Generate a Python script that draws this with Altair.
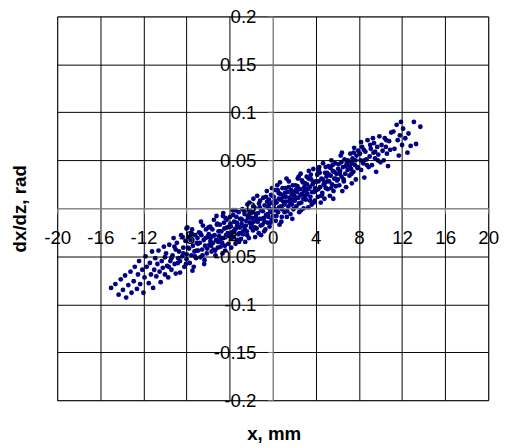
import altair as alt
import pandas as pd

# ---- data ----
x_mm = [
    # -15..-12
    -15.0, -14.6, -14.3, -14.1,
    -13.9, -13.7, -13.6, -13.4, -13.2, -13.1,
    -12.9, -12.8, -12.6, -12.5, -12.4, -12.3, -12.1, -12.0,
    # -12..-8
    -11.9, -11.8, -11.7, -11.5, -11.4, -11.3, -11.2, -11.1, -11.0,
    -10.9, -10.8, -10.7, -10.6, -10.5, -10.4, -10.3, -10.2, -10.1, -10.0, -10.0,
    -9.9, -9.8, -9.7, -9.6, -9.5, -9.4, -9.3, -9.2, -9.1, -9.0, -9.0, -9.4,
    -8.9, -8.8, -8.7, -8.6, -8.5, -8.4, -8.3, -8.2, -8.1, -8.0, -8.0, -8.6, -8.3,
    # -8..-5
    -7.04, -7.11, -7.19, -7.26, -7.33, -7.41, -7.48, -7.55, -7.63, -7.70, -7.77, -7.85, -7.92, -7.99, -7.45,
    -6.05, -6.12, -6.19, -6.27, -6.33, -6.40, -6.48, -6.55, -6.62, -6.70, -6.77, -6.84, -6.91, -6.98, -6.36, -6.66,
    -5.03, -5.10, -5.18, -5.25, -5.31, -5.39, -5.46, -5.53, -5.60, -5.67, -5.74, -5.80, -5.87, -5.94, -5.22, -5.49, -5.78,
    # -5..0
    -4.05, -4.12, -4.27, -4.33, -4.41, -4.48, -4.56, -4.62, -4.70, -4.77, -4.84, -4.91, -4.97, -4.18, -4.52, -4.88, -4.66, -4.38,
    -3.03, -3.09, -3.16, -3.24, -3.29, -3.37, -3.45, -3.51, -3.58, -3.64, -3.72, -3.79, -3.85, -3.93, -3.98, -3.41, -3.67, -3.12, -3.88,
    -2.02, -2.08, -2.14, -2.21, -2.27, -2.35, -2.40, -2.47, -2.55, -2.61, -2.68, -2.74, -2.81, -2.89, -2.95, -2.31, -2.58, -2.86, -2.17,
    -1.04, -1.11, -1.17, -1.23, -1.30, -1.36, -1.44, -1.49, -1.56, -1.63, -1.69, -1.76, -1.83, -1.90, -1.96, -1.27, -1.52, -1.79, -1.08,
    -0.03, -0.10, -0.16, -0.22, -0.29, -0.35, -0.43, -0.48, -0.55, -0.61, -0.68, -0.75, -0.82, -0.88, -0.95, -0.26, -0.52, -0.79, -0.07, -0.40,
    # 0..5
    0.04, 0.09, 0.15, 0.23, 0.28, 0.36, 0.42, 0.49, 0.57, 0.63, 0.70, 0.76, 0.84, 0.91, 0.97, 0.31, 0.54, 0.80, 0.12, 0.67,
    1.03, 1.10, 1.18, 1.24, 1.31, 1.37, 1.45, 1.50, 1.58, 1.65, 1.71, 1.78, 1.86, 1.92, 1.99, 1.28, 1.55, 1.82, 1.14,
    2.05, 2.11, 2.19, 2.26, 2.33, 2.38, 2.46, 2.53, 2.59, 2.66, 2.72, 2.80, 2.87, 2.93, 2.98, 2.41, 2.63, 2.15, 2.84,
    3.02, 3.08, 3.15, 3.22, 3.30, 3.35, 3.43, 3.50, 3.57, 3.62, 3.70, 3.77, 3.83, 3.90, 3.96, 3.26, 3.54, 3.81, 3.12,
    4.06, 4.13, 4.19, 4.25, 4.32, 4.39, 4.46, 4.52, 4.60, 4.67, 4.73, 4.80, 4.86, 4.94, 4.99, 4.28, 4.57, 4.84,
    # 5..8
    5.04, 5.11, 5.17, 5.24, 5.30, 5.38, 5.44, 5.51, 5.58, 5.64, 5.71, 5.77, 5.85, 5.91, 5.97, 5.35, 5.62,
    6.03, 6.10, 6.18, 6.25, 6.31, 6.39, 6.46, 6.52, 6.60, 6.66, 6.73, 6.81, 6.88, 6.95, 6.42,
    7.05, 7.12, 7.20, 7.27, 7.34, 7.41, 7.49, 7.56, 7.63, 7.71, 7.78, 7.86, 7.93, 7.38,
    # 8..14
    8.1, 8.2, 8.3, 8.4, 8.5, 8.6, 8.7, 8.8, 8.9, 9.0, 8.5, 8.2,
    9.1, 9.2, 9.4, 9.5, 9.6, 9.7, 9.8, 9.9, 10.0, 9.5, 9.3,
    10.1, 10.3, 10.4, 10.6, 10.7, 10.8, 10.9, 11.0, 10.5,
    11.2, 11.3, 11.5, 11.6, 11.7, 11.9, 11.8, 12.0,
    12.1, 12.3, 12.5, 12.8, 13.1, 13.3, 13.7, 12.6,
    # extra points filling the dense core
    -9.65, -9.12, -8.77, -8.35, -8.05, -7.88, -7.58, -7.22, -7.06, -6.93,
    -6.71, -6.52, -6.23, -6.08, -5.96, -5.72, -5.57, -5.35, -5.14, -5.06,
    -4.94, -4.73, -4.59, -4.44, -4.23, -4.09, -3.96, -3.81, -3.62, -3.47,
    -3.33, -3.19, -3.06, -2.92, -2.77, -2.63, -2.49, -2.37, -2.19, -2.05,
    -1.93, -1.81, -1.66, -1.54, -1.39, -1.21, -1.06, -0.92, -0.77, -0.63,
    -0.46, -0.33, -0.19, -0.05, 0.07, 0.19, 0.34, 0.46, 0.59, 0.73,
    0.87, 0.95, 1.08, 1.21, 1.34, 1.48, 1.62, 1.75, 1.88, 2.02,
    2.17, 2.29, 2.44, 2.57, 2.71, 2.90, 3.05, 3.18, 3.32, 3.47,
    3.64, 3.79, 3.93, 4.08, 4.22, 4.36, 4.49, 4.63, 4.78, 4.92,
    5.07, 5.21, 5.42, 5.55, 5.69, 5.83, 6.07, 6.22, 6.37, 6.58,
    6.79, 6.97, 7.15, 7.31, 7.52, 7.69, 7.90, 8.15, 8.45, 8.75,
    9.05, 9.35, 9.75, 10.2, 10.55,
]

dxdz_rad = [
    -0.083, -0.079, -0.090, -0.074,
    -0.085, -0.070, -0.093, -0.080, -0.066, -0.088,
    -0.076, -0.061, -0.084, -0.069, -0.055, -0.079, -0.064, -0.088,
    -0.072, -0.050, -0.061, -0.078, -0.057, -0.069, -0.045, -0.083, -0.064,
    -0.052, -0.071, -0.058, -0.044, -0.066, -0.077, -0.055, -0.062, -0.040, -0.069, -0.051,
    -0.047, -0.060, -0.072, -0.038, -0.055, -0.064, -0.049, -0.031, -0.058, -0.043, -0.068, -0.052,
    -0.036, -0.057, -0.045, -0.067, -0.028, -0.050, -0.041, -0.061, -0.034, -0.053, -0.021, -0.055, -0.047,
    -0.036, -0.052, -0.028, -0.045, -0.061, -0.039, -0.022, -0.049, -0.033, -0.057, -0.042, -0.030, -0.020, -0.048, -0.065,
    -0.030, -0.047, -0.022, -0.039, -0.054, -0.033, -0.018, -0.043, -0.028, -0.051, -0.036, -0.025, -0.044, -0.031, -0.058, -0.014,
    -0.024, -0.041, -0.017, -0.033, -0.049, -0.028, -0.012, -0.036, -0.022, -0.045, -0.030, -0.019, -0.038, -0.027, -0.008, -0.043, -0.034,
    -0.019, -0.037, -0.012, -0.028, -0.044, -0.021, -0.031, -0.008, -0.036, -0.024, -0.040, -0.017, -0.029, -0.026, -0.015, -0.033, -0.047, -0.010,
    -0.011, -0.026, -0.004, -0.033, -0.018, -0.009, -0.037, -0.022, -0.014, -0.030, -0.002, -0.025, -0.041, -0.016, -0.028, -0.021, -0.007, -0.035, -0.019,
    -0.020, -0.003, -0.015, -0.031, -0.010, 0.004, -0.024, -0.013, -0.035, -0.006, -0.019, -0.027, -0.001, -0.016, -0.032, -0.009, -0.022, -0.012, 0.006,
    -0.002, -0.018, 0.008, -0.011, -0.026, -0.005, 0.013, -0.021, -0.009, -0.030, 0.001, -0.014, -0.023, -0.004, -0.017, 0.005, -0.012, 0.010, -0.028,
    0.006, -0.012, 0.014, -0.004, -0.019, 0.009, 0.001, -0.015, 0.018, -0.007, -0.022, 0.003, -0.010, 0.011, -0.017, -0.001, 0.007, -0.024, 0.021, -0.009,
    -0.008, 0.012, 0.000, 0.019, -0.013, 0.006, 0.024, -0.004, 0.010, -0.017, 0.015, 0.002, -0.009, 0.021, 0.007, -0.002, 0.016, -0.014, 0.004, 0.027,
    0.014, -0.004, 0.021, 0.007, -0.009, 0.017, 0.002, 0.028, 0.011, -0.006, 0.019, 0.004, 0.024, -0.001, 0.013, 0.031, 0.008, -0.011, 0.016,
    0.008, 0.024, 0.002, 0.017, 0.031, 0.011, -0.004, 0.020, 0.036, 0.006, 0.015, 0.027, 0.000, 0.022, 0.013, 0.033, -0.002, 0.019, 0.010,
    0.026, 0.009, 0.033, 0.015, 0.001, 0.039, 0.022, 0.012, 0.030, 0.004, 0.025, 0.041, 0.017, 0.008, 0.028, 0.020, 0.035, 0.006, 0.019,
    0.019, 0.035, 0.012, 0.028, 0.043, 0.022, 0.006, 0.031, 0.016, 0.047, 0.025, 0.010, 0.037, 0.021, 0.033, 0.040, 0.014, 0.027,
    0.037, 0.020, 0.044, 0.028, 0.013, 0.034, 0.050, 0.025, 0.039, 0.018, 0.031, 0.047, 0.023, 0.036, 0.029, 0.042, 0.010,
    0.030, 0.046, 0.024, 0.039, 0.055, 0.033, 0.018, 0.043, 0.028, 0.051, 0.036, 0.022, 0.047, 0.040, 0.058,
    0.049, 0.034, 0.057, 0.041, 0.026, 0.052, 0.038, 0.063, 0.045, 0.030, 0.055, 0.042, 0.060, 0.047,
    0.057, 0.040, 0.064, 0.047, 0.032, 0.059, 0.051, 0.071, 0.043, 0.054, 0.050, 0.069,
    0.062, 0.045, 0.068, 0.052, 0.038, 0.064, 0.056, 0.075, 0.048, 0.059, 0.073,
    0.066, 0.050, 0.073, 0.057, 0.044, 0.070, 0.061, 0.079, 0.064,
    0.080, 0.062, 0.087, 0.071, 0.055, 0.090, 0.076, 0.066,
    0.083, 0.073, 0.058, 0.065, 0.090, 0.067, 0.085, 0.078,
    # extra points filling the dense core
    -0.061, -0.040, -0.052, -0.030, -0.058, -0.041, -0.027, -0.050, -0.044, -0.037,
    -0.026, -0.049, -0.031, -0.042, -0.020, -0.039, -0.029, -0.044, -0.016, -0.035,
    -0.024, -0.031, -0.005, -0.039, -0.020, -0.029, -0.009, -0.031, -0.024, -0.002,
    -0.015, -0.027, -0.020, -0.011, -0.024, -0.003, -0.018, -0.028, -0.007, -0.015,
    -0.010, 0.002, -0.020, -0.006, -0.014, 0.001, -0.011, -0.003, -0.014, 0.012,
    -0.006, 0.004, -0.015, 0.013, -0.002, 0.008, -0.008, 0.019, 0.001, 0.009,
    -0.001, 0.012, 0.004, 0.012, -0.003, 0.022, 0.006, 0.015, 0.009, 0.017,
    0.011, 0.023, 0.005, 0.014, 0.029, 0.018, 0.013, 0.025, 0.031, 0.008,
    0.017, 0.027, 0.021, 0.028, 0.020, 0.037, 0.013, 0.030, 0.024, 0.043,
    0.028, 0.035, 0.021, 0.045, 0.038, 0.031, 0.041, 0.036, 0.048, 0.030,
    0.044, 0.050, 0.044, 0.036, 0.058, 0.050, 0.043, 0.050, 0.061, 0.045,
    0.066, 0.058, 0.050, 0.060, 0.071,
]

x_ticks = [-20, -16, -12, -8, -4, 0, 4, 8, 12, 16, 20]
y_ticks = [-0.2, -0.15, -0.1, -0.05, 0, 0.05, 0.1, 0.15, 0.2]

df = pd.DataFrame({"x": x_mm, "y": dxdz_rad})

FONT = "Liberation Sans"
grid_color = alt.condition("datum.value == 0", alt.value("#808080"), alt.value("#000000"))

x_axis = alt.Axis(
    values=x_ticks, orient="bottom", offset=-195, zindex=1,
    grid=True, gridColor=grid_color, gridWidth=1, gridOpacity=1,
    domainColor="#808080", domainWidth=1,
    ticks=True, tickColor="#808080", tickSize=5,
    labelFont=FONT, labelFontSize=19, labelColor="#000000",
    labelPadding=16, labelFlush=False, labelOverlap=False,
    labelExpr="toString(datum.value)",
    title="x, mm", titleFont=FONT, titleFontSize=19, titleFontWeight="bold",
    titleColor="#000000", titleX=220, titleY=235, titleBaseline="alphabetic",
    titleAlign="center",
)

y_axis = alt.Axis(
    values=y_ticks, orient="left", offset=-219, zindex=1,
    grid=True, gridColor=grid_color, gridWidth=1, gridOpacity=1,
    domainColor="#808080", domainWidth=1,
    ticks=True, tickColor="#808080", tickSize=5,
    labelFont=FONT, labelFontSize=19, labelColor="#000000",
    labelPadding=12, labelFlush=False, labelOverlap=False,
    labelExpr="toString(datum.value)",
    title="dx/dz, rad", titleFont=FONT, titleFontSize=19, titleFontWeight="bold",
    titleColor="#000000", titleX=-251, titleY=195, titleBaseline="alphabetic",
    titleAlign="center", titleAngle=270,
)

chart = (
    alt.Chart(df)
    .mark_circle(size=24, color="#000080", opacity=1)
    .encode(
        x=alt.X("x:Q", scale=alt.Scale(domain=[-20, 20], nice=False, zero=False), axis=x_axis),
        y=alt.Y("y:Q", scale=alt.Scale(domain=[-0.2, 0.2], nice=False, zero=False), axis=y_axis),
    )
    .properties(
        width=438,
        height=390,
        autosize=alt.AutoSizeParams(type="none"),
        padding={"left": 50, "top": 5, "right": 15, "bottom": 45},
        background="white",
    )
    .configure_view(stroke="#808080", strokeWidth=1)
)

chart.save("out.html", embed_options={"renderer": "svg", "actions": False})
